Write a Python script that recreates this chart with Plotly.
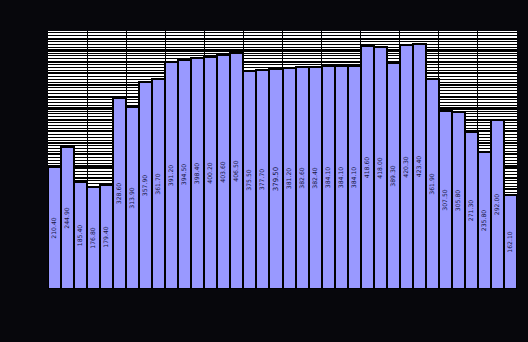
import plotly.graph_objects as go

# Bar series: 36 consecutive periods
periods = list(range(36))
values = [210.4, 244.9, 185.4, 176.8, 179.4, 328.6, 313.9, 357.9, 361.7, 391.2,
          394.5, 398.4, 400.2, 403.6, 406.5, 375.5, 377.7, 379.5, 381.2, 382.6,
          382.4, 384.1, 384.1, 384.1, 418.6, 418.0, 389.3, 420.3, 423.4, 361.9,
          307.5, 305.8, 271.3, 235.8, 292.0, 162.1]

BG = "#07070c"
BAR = "#9999ff"

fig = go.Figure()
fig.add_trace(go.Bar(
    x=periods,
    y=values,
    marker=dict(color=BAR, line=dict(color="#000000", width=2)),
    texttemplate="%{y:.2f}",
    textposition="inside",
    insidetextanchor="middle",
    textangle=-90,
    textfont=dict(size=7, color="#141440", family="DejaVu Sans"),
    showlegend=False,
))

# invisible helper trace carrying the heavy horizontal grid on an overlay axis
fig.add_trace(go.Scatter(x=[periods[0]], y=[values[0]], yaxis="y2",
                         mode="markers", marker=dict(opacity=0),
                         showlegend=False, hoverinfo="skip"))

yrange = [0, 445]
fig.update_layout(
    width=528, height=342,
    margin=dict(l=48, r=11, t=31, b=53),
    paper_bgcolor=BG,
    plot_bgcolor="#ffffff",
    bargap=0,
    xaxis=dict(range=[-0.5, 35.5], tick0=2.5, dtick=3, showgrid=True,
               gridcolor="#000000", gridwidth=1, showticklabels=False,
               ticks="", zeroline=False, showline=False),
    yaxis=dict(range=yrange, tick0=12, dtick=20, showgrid=True,
               gridcolor="#000000", gridwidth=2, showticklabels=False,
               ticks="", zeroline=False, showline=False,
               minor=dict(dtick=5, tick0=12, showgrid=True,
                          gridcolor="#000000", gridwidth=1)),
    yaxis2=dict(range=yrange, overlaying="y", tick0=12, dtick=100,
                showgrid=True, gridcolor="#000000", gridwidth=3,
                showticklabels=False, ticks="", zeroline=False,
                showline=False),
)

fig.write_html("out.html")
